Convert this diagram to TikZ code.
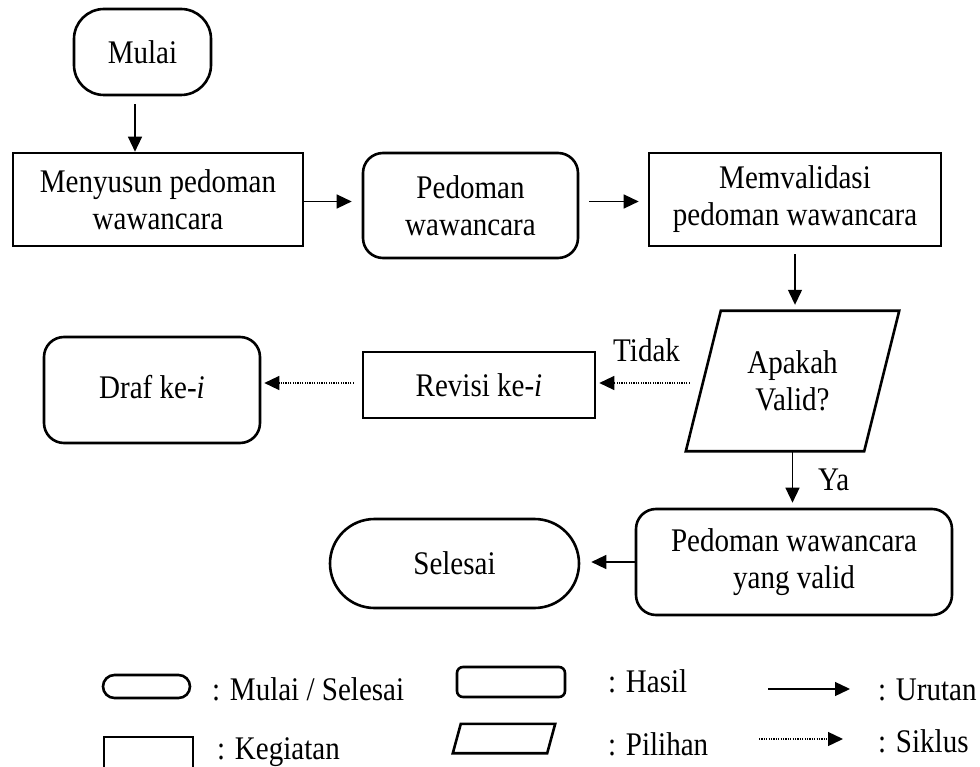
\documentclass[tikz,border=0pt]{standalone}
\usepackage{fontspec}
\setmainfont{Liberation Serif}[FakeStretch=0.88]
\usetikzlibrary{arrows.meta}
\begin{document}
\begin{tikzpicture}[x=1pt,y=-1pt,
  font=\fontsize{33}{37}\selectfont,
  shapebox/.style={draw, line width=2.6pt, align=center, inner sep=0pt},
  kegiatan/.style={shapebox, rectangle},
  hasil/.style={shapebox, rounded corners=#1},
  hasil/.default=20pt,
  plain/.style={inner sep=0pt, align=center},
  arr/.style={line width=1.3pt, -{Triangle[length=15pt,width=14pt]}},
  cyc/.style={arr, dash pattern=on 1.2pt off 1.2pt},
  lbl/.style={inner sep=0pt, anchor=base west}
]
\useasboundingbox (0,0) rectangle (980,767);

% ---------- flow ----------
\node[hasil=30pt, minimum width=137pt, minimum height=86pt] (mulai) at (142.5,52) {Mulai};
\node[kegiatan, minimum width=290pt, minimum height=93pt] (menyusun) at (158,199.5) {Menyusun pedoman\\wawancara};
\node[hasil, minimum width=215pt, minimum height=105pt] (pedoman) at (470.5,205.5) {Pedoman\\wawancara};
\node[kegiatan, minimum width=292pt, minimum height=93pt] (memvalidasi) at (795,199.5) {Memvalidasi\\pedoman wawancara};

% decision: text node with a parallelogram outline around it
\node[plain, minimum width=178pt, minimum height=140pt] (valid) at (792.5,381) {Apakah\\Valid?};
\draw[line width=2.6pt, line join=miter]
  ([xshift=-17.5pt]valid.south west) -- ([xshift=17.5pt]valid.north west)
  -- ([xshift=17.5pt]valid.north east) -- ([xshift=-17.5pt]valid.south east) -- cycle;

\node[kegiatan, minimum width=232pt, minimum height=66pt] (revisi) at (479,385) {Revisi ke-\textit{i}};
\node[hasil, minimum width=216pt, minimum height=106pt] (draf) at (152,390) {\raisebox{7pt}{Draf ke-\textit{i}}};
\node[hasil, minimum width=316pt, minimum height=106pt] (hasilvalid) at (794,562) {Pedoman wawancara\\yang valid};
\node[hasil=44.5pt, minimum width=249pt, minimum height=89pt] (selesai) at (454.5,563.5) {Selesai};

\node[lbl] (tidak) at (613,362) {Tidak};
\node[lbl] (ya) at (818,490) {Ya};

% ---------- connectors ----------
\draw[arr, shorten <=8pt] ([xshift=-7.5pt]mulai.south) -- ([xshift=-7.5pt]mulai.south |- menyusun.north);
\draw[arr, shorten >=10pt] ([yshift=-2pt]menyusun.east) -- ([yshift=-2pt]menyusun.east -| pedoman.west);
\draw[arr, shorten <=10pt, shorten >=9pt] ([yshift=-2pt]pedoman.east |- menyusun.east) -- ([yshift=-2pt]menyusun.east -| memvalidasi.west);
\draw[arr, shorten <=7pt, shorten >=6pt] (memvalidasi.south) -- (memvalidasi.south |- valid.north);
\draw[cyc, shorten <=13.5pt, shorten >=3pt] ([yshift=-2pt]valid.west) -- ([yshift=-2pt]valid.west -| revisi.east);
\draw[cyc, shorten <=8pt, shorten >=3pt] ([yshift=-2pt]revisi.west |- valid.west) -- ([yshift=-2pt]valid.west -| draf.east);
\draw[arr, shorten <=1pt, shorten >=5pt] (valid.south) -- (valid.south |- hasilvalid.north);
\draw[arr, shorten >=11pt] (hasilvalid.west) -- (hasilvalid.west -| selesai.east);

% ---------- legend ----------
\node[hasil=11.5pt, minimum width=87pt, minimum height=23pt] (lterm) at (146.5,686.5) {};
\node[lbl] (ltermtxt) at (212,700) {: Mulai / Selesai};
\node[kegiatan, minimum width=89pt, minimum height=40pt] (lkeg) at (148.5,757) {};
\node[lbl] (lkegtxt) at (217,759) {: Kegiatan};

\node[hasil=6pt, minimum width=108pt, minimum height=30pt] (lhasil) at (511,682) {};
\node[lbl] (lhasiltxt) at (608,692) {: Hasil};
\node[plain, minimum width=94pt, minimum height=29pt] (lpil) at (504,738.5) {};
\draw[line width=2.6pt, line join=miter]
  ([xshift=-4pt]lpil.south west) -- ([xshift=4pt]lpil.north west)
  -- ([xshift=4pt]lpil.north east) -- ([xshift=-4pt]lpil.south east) -- cycle;
\node[lbl] (lpiltxt) at (608,755) {: Pilihan};

\coordinate (uruta) at (768,689);
\coordinate (urutb) at (850,689);
\draw[arr] (uruta) -- (urutb);
\node[lbl] (uruttxt) at (878,700) {: Urutan};
\coordinate (sikla) at (759,739);
\coordinate (siklb) at (843,739);
\draw[cyc] (sikla) -- (siklb);
\node[lbl] (sikltxt) at (878,752) {: Siklus};
\end{tikzpicture}
\end{document}
